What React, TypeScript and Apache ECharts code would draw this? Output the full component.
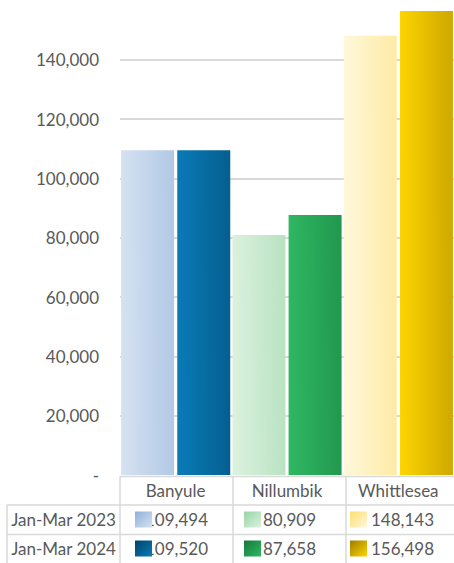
import React, { useEffect, useRef } from 'react';
import * as echarts from 'echarts';

const categories = ['Banyule', 'Nillumbik', 'Whittlesea'];
const seriesNames = ['Jan-Mar 2023', 'Jan-Mar 2024'];
const values2023 = [109494, 80909, 148143];
const values2024 = [109520, 87658, 156498];
const yMax = 160000;
const yInterval = 20000;
const colors2023 = [['#d6e2f1', '#8eb0da'], ['#dcf2e0', '#96d4a4'], ['#fff8dc', '#fcde6e']];
const colors2024 = [['#0a7bb7', '#00446a'], ['#2fb863', '#16783c'], ['#fed500', '#9e7c00']];

const W = 454;
const H = 563;
const GRID_LEFT = 120;
const GRID_RIGHT = -5;
const GRID_TOP = 0.5;
const GRID_BOTTOM = 88;
const BAR_W = 53;
const FONT = 'Lato, "Open Sans", sans-serif';
const FONT_SIZE = 17;
const TEXT = '#595959';
const LINE = '#d9d9d9';

const plotH = H - GRID_TOP - GRID_BOTTOM;
const colW = (W - GRID_LEFT - GRID_RIGHT) / categories.length;
const tableTop = H - GRID_BOTTOM + 1.5;
const headerBottom = 505;
const rowBottoms = [534.5, H + 2];
const rowCenters = [519.5, 548.5];
const tableLeft = 7;
const swatchOffsets = [15, 11, 4];
const SW_W = 17;
const SW_H = 16;

function barGradient(value: number, c: string[]) {
  const h = Math.max(20, (value / yMax) * plotH);
  const by = (2 * BAR_W * BAR_W) / (h * h);
  return {
    type: 'linear',
    x: 0,
    y: 1,
    x2: 2,
    y2: 1 - by,
    colorStops: [
      { offset: 0, color: c[0] },
      { offset: 1, color: c[1] },
    ],
  };
}

function swatchGradient(c: string[]) {
  return {
    type: 'linear',
    x: 0,
    y: 0,
    x2: 1,
    y2: 1,
    colorStops: [
      { offset: 0, color: c[1] },
      { offset: 1, color: c[0] },
    ],
  };
}

const fmt = (v: number) => v.toLocaleString('en-US');

export default function App() {
  const ref = useRef<HTMLDivElement>(null);
  useEffect(() => {
    document.body.style.margin = '0';
    if (!ref.current) return;
    const chart = echarts.init(ref.current, undefined, { renderer: 'svg' });

    const rows = [
      { name: seriesNames[0], values: values2023, colors: colors2023 },
      { name: seriesNames[1], values: values2024, colors: colors2024 },
    ];

    const graphic: any[] = [];
    const line = (x1: number, y1: number, x2: number, y2: number) => ({
      type: 'line',
      silent: true,
      z: 5,
      shape: { x1, y1, x2, y2 },
      style: { stroke: LINE, lineWidth: 1.5 },
    });
    graphic.push(line(GRID_LEFT, tableTop, W + 2, tableTop));
    graphic.push(line(tableLeft, headerBottom, W + 2, headerBottom));
    graphic.push(line(tableLeft, rowBottoms[0], W + 2, rowBottoms[0]));
    graphic.push(line(tableLeft, headerBottom, tableLeft, H + 2));
    for (let i = 0; i < categories.length; i++) {
      const x = GRID_LEFT + i * colW;
      graphic.push(line(x, tableTop, x, H + 2));
    }
    const textStyle = (text: string) => ({
      text,
      fill: TEXT,
      font: `${FONT_SIZE}px ${FONT}`,
      fontSize: FONT_SIZE,
      fontFamily: FONT,
      align: 'center',
      verticalAlign: 'middle',
      textAlign: 'center',
      textVerticalAlign: 'middle',
    });
    rows.forEach((row, r) => {
      graphic.push({
        type: 'text',
        silent: true,
        z: 10,
        x: (tableLeft + GRID_LEFT) / 2,
        y: rowCenters[r],
        style: textStyle(row.name),
      });
      row.values.forEach((v, i) => {
        const left = GRID_LEFT + i * colW;
        graphic.push({
          type: 'text',
          silent: true,
          z: 10,
          x: left + colW / 2,
          y: rowCenters[r],
          style: textStyle(fmt(v)),
        });
        graphic.push({
          type: 'rect',
          silent: true,
          z: 11,
          shape: { x: left + swatchOffsets[i], y: rowCenters[r] - SW_H / 2, width: SW_W, height: SW_H },
          style: { fill: swatchGradient(row.colors[i]) },
        });
      });
    });

    chart.setOption({
      animation: false,
      grid: { left: GRID_LEFT, right: GRID_RIGHT, top: GRID_TOP, bottom: GRID_BOTTOM, containLabel: false },
      xAxis: {
        type: 'category',
        data: categories,
        axisLine: { show: false },
        axisTick: { show: false },
        splitLine: { show: false },
        axisLabel: {
          margin: 15,
          verticalAlign: 'middle',
          color: TEXT,
          fontSize: FONT_SIZE,
          fontFamily: FONT,
        },
      },
      yAxis: {
        type: 'value',
        min: 0,
        max: yMax,
        interval: yInterval,
        axisLine: { show: false },
        axisTick: { show: false },
        splitLine: {
          show: true,
          showMinLine: false,
          showMaxLine: false,
          lineStyle: { color: LINE, width: 2 },
        },
        axisLabel: {
          margin: 21,
          color: TEXT,
          fontSize: FONT_SIZE,
          fontFamily: FONT,
          formatter: (v: number) => (v === 0 ? '-' : v >= yMax ? '' : fmt(v)),
        },
      },
      series: rows.map((row) => ({
        type: 'bar',
        name: row.name,
        barWidth: BAR_W,
        barGap: '6%',
        data: row.values.map((v, i) => ({
          value: v,
          itemStyle: { color: barGradient(v, row.colors[i]) },
        })),
      })),
      graphic,
    });
    return () => chart.dispose();
  }, []);
  return <div ref={ref} style={{ width: W, height: H }} />;
}
